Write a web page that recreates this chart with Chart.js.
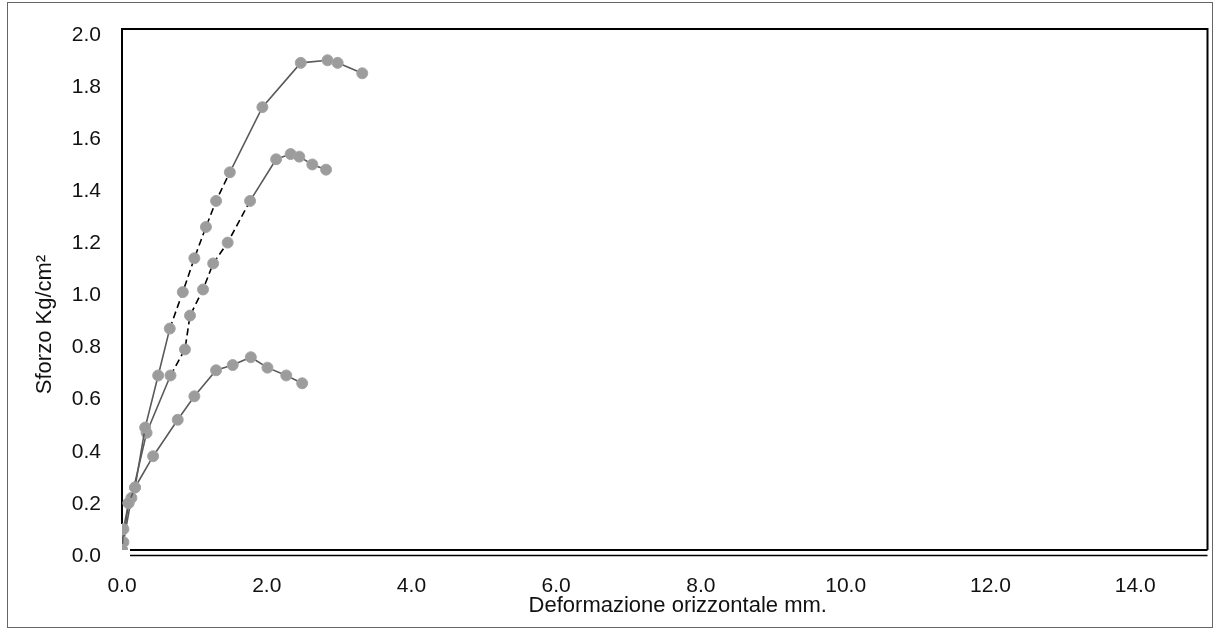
<!DOCTYPE html>
<html>
<head>
<meta charset="utf-8">
<script src="https://cdn.jsdelivr.net/npm/chart.js@4/dist/chart.umd.min.js"></script>
<style>
  body { margin: 0; background: #fff; }
  #frame { position: absolute; left: 7px; top: 2px; width: 1204px; height: 624px; border: 1px solid #666; }
  #wrap { position: absolute; left: 0; top: 0; width: 1214px; height: 633px; }
</style>
</head>
<body>
<div id="frame"></div>
<div id="wrap"><canvas id="chart" width="1214" height="633"></canvas></div>
<script>
// curve data: x = deformazione (mm), y = sforzo (Kg/cm²)
var curveAx = [0, 0.02, 0.09, 0.18, 0.32, 0.50, 0.66, 0.84, 1.00, 1.16, 1.30, 1.49, 1.94, 2.47, 2.84, 2.98, 3.32];
var curveAy = [0, 0.08, 0.18, 0.24, 0.47, 0.67, 0.85, 0.99, 1.12, 1.24, 1.34, 1.45, 1.70, 1.87, 1.88, 1.87, 1.83];

var curveBx = [0, 0.02, 0.13, 0.34, 0.67, 0.87, 0.94, 1.12, 1.26, 1.46, 1.77, 2.13, 2.33, 2.45, 2.63, 2.82];
var curveBy = [0, 0.03, 0.20, 0.45, 0.67, 0.77, 0.90, 1.00, 1.10, 1.18, 1.34, 1.50, 1.52, 1.51, 1.48, 1.46];

var curveCx = [0, 0.09, 0.18, 0.43, 0.77, 1.00, 1.30, 1.53, 1.78, 2.01, 2.27, 2.49];
var curveCy = [0, 0.18, 0.24, 0.36, 0.50, 0.59, 0.69, 0.71, 0.74, 0.70, 0.67, 0.64];

var xTicks = [0, 2, 4, 6, 8, 10, 12, 14];
var yTicks = [0, 0.2, 0.4, 0.6, 0.8, 1.0, 1.2, 1.4, 1.6, 1.8, 2.0];

var xTitle = 'Deformazione orizzontale mm.';
var yTitle = 'Sforzo Kg/cm²';

function toPoints(xs, ys) {
    return xs.map(function(x, i) { return { x: x, y: ys[i] }; });
}

// the scanned original shows the middle stretch of the two upper curves as black dashes
function curve(xs, ys, dashFrom, dashTo) {
    var inDash = function(c) { return c.p0.parsed.y >= dashFrom && c.p1.parsed.y <= dashTo; };
    return {
        data: toPoints(xs, ys),
        showLine: true,
        borderColor: '#5a5a5a',
        borderWidth: 1.6,
        pointRadius: 5.5,
        pointBackgroundColor: '#9c9c9c',
        pointBorderColor: '#a4a4a4',
        pointBorderWidth: 1,
        tension: 0,
        segment: {
            borderColor: function(c) { return inDash(c) ? '#000' : undefined; },
            borderDash: function(c) { return inDash(c) ? [7, 4] : undefined; }
        }
    };
}

var framePlugin = {
    id: 'frame',
    beforeDatasetsDraw: function(chart) {
        var ctx = chart.ctx, a = chart.chartArea;
        ctx.save();
        ctx.strokeStyle = '#000';
        ctx.lineWidth = 2;
        ctx.beginPath();
        ctx.moveTo(a.left, a.bottom - 26);
        ctx.lineTo(a.left, a.top);
        ctx.lineTo(a.right, a.top);
        ctx.lineTo(a.right, a.bottom);
        ctx.stroke();
        ctx.beginPath();
        ctx.moveTo(a.left + 8, a.bottom);
        ctx.lineTo(a.right, a.bottom);
        ctx.stroke();
        ctx.lineWidth = 1.5;
        ctx.beginPath();
        ctx.moveTo(a.left + 8, a.bottom + 5.5);
        ctx.lineTo(a.right, a.bottom + 5.5);
        ctx.stroke();
        ctx.restore();
    },
    afterDraw: function(chart) {
        var ctx = chart.ctx, a = chart.chartArea;
        ctx.save();
        ctx.fillStyle = '#111';
        ctx.font = '22px "Liberation Sans", Arial, sans-serif';
        ctx.textAlign = 'center';
        ctx.textBaseline = 'middle';
        ctx.fillText(xTitle, (a.left + a.right) / 2 + 13, a.bottom + 56);
        ctx.translate(a.left - 77, (a.top + a.bottom) / 2 + 35);
        ctx.rotate(-Math.PI / 2);
        ctx.fillText(yTitle, 0, 0);
        ctx.restore();
    }
};

window.onload = function() {
    var ctx = document.getElementById('chart').getContext('2d');
    new Chart(ctx, {
        type: 'scatter',
        data: {
            datasets: [
                curve(curveAx, curveAy, 0.84, 1.46),
                curve(curveBx, curveBy, 0.66, 1.36),
                curve(curveCx, curveCy, 9, 9)
            ]
        },
        options: {
            responsive: false,
            animation: false,
            layout: {
                padding: { left: 0, right: 2, top: 29, bottom: 0 }
            },
            scales: {
                x: {
                    type: 'linear',
                    min: 0,
                    max: 15,
                    afterBuildTicks: function(scale) {
                        scale.ticks = xTicks.map(function(v) { return { value: v }; });
                    },
                    afterFit: function(scale) {
                        scale.height = 83;
                        scale.paddingLeft = 0;
                        scale.paddingRight = 0;
                    },
                    ticks: {
                        padding: 24,
                        maxRotation: 0,
                        color: '#111',
                        font: { size: 21, family: '"Liberation Sans", Arial, sans-serif' },
                        callback: function(v) { return Number(v).toFixed(1); }
                    },
                    grid: { display: false, drawTicks: false },
                    border: { display: false }
                },
                y: {
                    min: 0,
                    max: 2,
                    afterBuildTicks: function(scale) {
                        scale.ticks = yTicks.map(function(v) { return { value: v }; });
                    },
                    afterFit: function(scale) {
                        scale.width = 122;
                        scale.paddingTop = 0;
                        scale.paddingBottom = 0;
                    },
                    ticks: {
                        padding: 21,
                        labelOffset: 6,
                        color: '#111',
                        font: { size: 21, family: '"Liberation Sans", Arial, sans-serif' },
                        callback: function(v) { return Number(v).toFixed(1); }
                    },
                    grid: { display: false, drawTicks: false },
                    border: { display: false }
                }
            },
            plugins: {
                legend: { display: false },
                tooltip: { enabled: false }
            }
        },
        plugins: [framePlugin]
    });
};
</script>
</body>
</html>
